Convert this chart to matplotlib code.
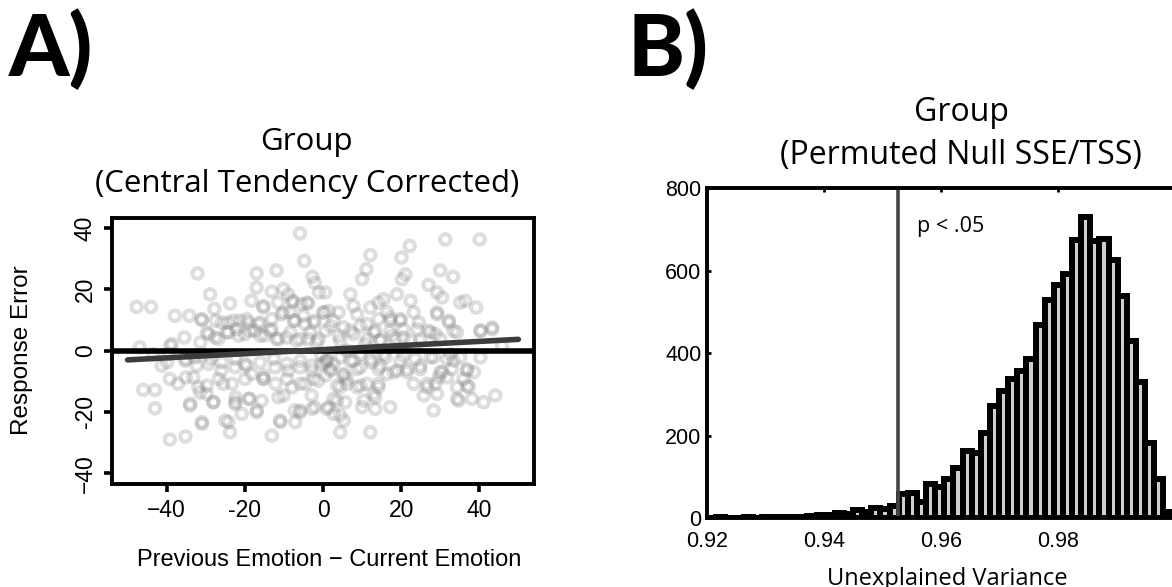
import matplotlib
matplotlib.use("Agg")
import matplotlib.pyplot as plt
import numpy as np

# ---- panel A data: previous - current emotion (x) vs response error (y)
# sparse reading of the whole cloud
prev_minus_cur_1 = [
    -5.9, -4.8, -32.1, -17.0, -11.9, -2.7, -2.1, -1.0, -28.9, -17.0, -13.1, -10.1, -8.9, -7.6,
    -5.5, -3.8, -47.7, -44.0, -23.8, -18.3, -15.3, -11.5, -27.8, -37.9, -34.2, -31.1, -27.5,
    -24.3, -21.2, -19.2, -16.5, -13.1, -10.6, -8.5, -7.2, -4.6, -2.1, 0.1, -35.5, -38.7, -29.3,
    -26.8, -24.2, -22.1, -20.0, -17.4, -14.9, -11.9, -9.3, -6.8, -3.8, -1.6, -46.9, -43.5,
    -41.3, -39.2, -37.1, -35.1, -33.2, -46.0, -43.0, -43.0, -34.0, -31.0, -39.2, -35.2, -31.9,
    -29.8, -28.1, -25.5, -24.2, -23.8, -22.5, -20.8, -18.8, -17.0, -15.7, -15.3, -13.1, -11.0,
    -10.1, -7.9, -7.2, -5.9, -2.9, -2.1, -22.5, -20.0, -18.3, -26.0, -29.3, -35.2, -39.6, -32.7,
    -12.3, -8.9, -5.9, -2.9, -0.4, -4.6, -1.2, -0.4,
    31.3, 40.1, 22.2, 12.1, 20.1, 11.1, 10.0, 21.1, 20.2, 30.0, 33.3, 7.0, 18.9, 27.0, 29.2,
    30.5, 35.1, 36.4, 39.2, 12.1, 14.2, 15.5, 1.4, 4.0, 23.2, 24.5, 29.2, 32.2, 33.4, 40.3,
    43.3, 11.2, 13.4, 17.2, 19.8, 5.3, 7.8, 17.7, 20.6, 27.0, 28.8, 45.8, 24.9, 40.3, 36.9,
    38.6, 32.6, 31.7, 30.0, 28.8, 24.9, 23.2, 26.6, 25.8, 28.3, 29.2, 34.7, 34.3, 37.3, 38.1,
    41.1, 44.1, 36.0, 16.4, 19.0, 21.5, 17.2, 13.4, 10.0, 12.1, 4.4, 5.3, 2.7, 3.6, 4.4, 1.4,
    6.1, 8.7, 11.2, 12.9, 14.2, 9.6, 12.5, 14.7, 7.0, 2.7, 1.0, 1.9, 5.3, 6.1, 9.6, 15.5, 20.6,
    28.3, 33.4, 4.4, 10.8, 14.7, 0.6, 2.7, 8.7, 16.4, 22.4, 0.6, 7.8,
]
response_error_1 = [
    38.3, 29.3, 25.2, 25.2, 26.2, 24.1, 22.2, 19.0, 18.4, 20.6, 19.3, 20.1, 18.4, 16.0, 15.2,
    15.4, 14.3, 14.3, 15.4, 16.3, 14.1, 15.7, 13.6, 11.4, 11.4, 10.0, 9.8, 9.2, 9.8, 9.2, 8.7,
    7.0, 11.9, 12.5, 9.8, 8.7, 9.8, 12.5, 4.3, 2.2, 5.4, 3.8, 6.0, 7.0, 5.4, 6.5, 4.9, 3.8, 4.3,
    3.3, 3.8, 2.7, 1.1, -1.1, -4.9, -9.2, -10.8, -8.7, -8.7, -12.8, -12.8, -18.8, -17.9, -23.9,
    -29.0, -28.0, -11.9, -14.1, -16.8, -10.8, -23.3, -26.6, -17.4, -20.6, -15.7, -20.1, -16.3,
    -9.2, -27.7, -22.8, -14.6, -11.9, -19.5, -20.1, -14.6, -18.4, -5.4, -4.3, -7.6, -6.5, -4.3,
    -3.3, -1.1, -2.2, -5.4, -6.5, -5.4, -6.5, -4.3, -10.8, -9.8, -1.6,
    36.3, 36.3, 34.2, 31.2, 30.4, 26.6, 23.3, 24.9, 23.3, 26.2, 24.1, 18.4, 18.4, 21.5, 19.0,
    17.4, 15.7, 16.3, 14.1, 14.1, 15.7, 16.8, 13.0, 12.5, 12.5, 9.2, 12.5, 9.2, 6.5, 6.5, 7.6,
    8.7, 6.5, 9.8, 9.8, 7.6, 5.4, 4.9, 4.3, 6.5, 5.4, 1.6, 3.3, -2.2, -6.5, -7.0, -1.1, -8.7,
    -7.0, -10.8, -4.9, -10.8, -11.9, -14.6, -19.5, -14.1, -16.3, -11.9, -11.9, -15.7, -16.8,
    -14.6, -9.2, -7.6, -6.5, -7.0, -18.4, -19.0, -18.4, -26.6, -26.6, -22.8, -20.6, -16.3,
    -11.9, -18.4, -10.8, -11.9, -10.8, -14.1, -11.9, -5.4, -3.8, -4.9, -3.3, -4.3, -3.3, -6.5,
    -7.6, 0.0, -1.1, -1.1, -1.6, -2.2, -3.3, 3.3, 2.2, 3.3, 6.5, 9.8, 11.9, 12.5, 16.3, 19.0,
    14.6,
]
# dense centre, left half
prev_minus_cur_2 = [
    -7.9, -4.1, -15.2, -31.0, -25.9, -22.9, -19.5, -16.1, -13.1, -10.1, -7.5, -5.0, -2.4, 0.2,
    -29.7, -27.6, -24.6, -21.6, -18.6, -16.1, -13.5, -11.4, -8.4, -5.8, -3.3, -1.1, -39.1,
    -31.4, -39.9, -35.2, -32.3, -28.8, -25.9, -22.4, -19.5, -16.1, -12.6, -9.2, -5.8, -2.8,
    0.6, -29.7, -26.7, -23.3, -19.9, -15.2, -15.2, -12.2, -9.2, -5.8, -2.4, 0.6, -34.0, -31.4,
    -28.0, -22.4, -22.4, -19.0, -16.9, -11.4, -5.8, -2.8, -31.0, -25.0, -10.9, -7.1,
]
response_error_2 = [
    16.3, 15.7, 14.6, 10.3, 9.2, 9.8, 10.3, 9.2, 10.3, 12.5, 9.8, 11.4, 9.2, 12.5, 6.0, 4.3,
    6.0, 4.9, 6.5, 4.9, 6.5, 3.8, 6.0, 3.8, 6.0, 3.8, 1.6, 2.7, -3.8, -2.7, -4.9, -2.7, -3.8,
    -2.7, -4.9, -3.8, -2.7, -4.3, -3.3, -4.9, -3.8, -11.4, -9.2, -10.8, -9.2, -8.1, -9.2,
    -10.8, -9.2, -10.8, -9.2, -8.1, -17.3, -13.6, -16.8, -16.8, -15.2, -15.7, -19.5, -15.2,
    -19.5, -19.0, -23.3, -22.8, -23.3, -23.3,
]
# dense centre, right half
prev_minus_cur_3 = [
    29.2, 32.2, 17.2, 19.8, 14.2, 1.9, 7.0, 9.6, 13.0, 17.2, 20.6, 24.1, 27.5, 34.3, 40.3,
    43.3, 4.0, 11.3, 14.7, 18.5, 22.4, 30.0, 1.0, 4.4, 7.8, 12.1, 16.0, 19.8, 23.6, 27.5, 31.7,
    35.1, 1.9, 5.3, 8.7, 14.2, 18.1, 21.5, 24.9, 30.5, 33.0, 36.9, 3.6, 6.1, 9.6, 14.2, 26.6,
    29.6, 36.9, 34.3, 2.7, 5.7, 10.4, 13.4, 1.0, 4.4,
]
response_error_3 = [
    11.9, 9.8, 10.8, 10.3, 10.3, 8.1, 6.5, 8.1, 6.0, 6.5, 7.0, 7.0, 6.0, 6.0, 6.5, 7.0, 4.9,
    3.8, 3.3, 3.8, 3.3, 3.8, -2.7, -2.2, -3.3, -2.7, -2.2, -3.3, -2.7, -2.2, -2.7, -2.2, -6.0,
    -8.1, -6.0, -6.0, -7.0, -6.0, -6.0, -7.0, -6.0, -6.0, -11.4, -9.2, -11.4, -10.8, -10.8,
    -8.7, -11.4, -15.7, -15.7, -16.8, -16.3, -15.2, -19.0, -21.1,
]
fit_x = [-50, 50]
fit_y = [-3.0, 3.7]

# ---- panel B data: permuted null SSE/TSS histogram
bin_start = 0.9200
bin_width = 0.00156
null_counts = [
    1, 2, 1, 1, 2, 1, 2, 3, 2, 3, 4, 6, 7, 8, 12, 10, 20, 15, 24, 22, 29,
    58, 60, 40, 83, 75, 94, 121, 164, 157, 206, 273, 309, 337, 356, 385, 468, 529, 565,
    592, 674, 731, 673, 676, 626, 539, 429, 330, 182, 95, 16,
]
observed = 0.9527

W, H = 1172, 587
fig = plt.figure(figsize=(W / 100, H / 100), dpi=100)

def px(x0, y0, x1, y1):
    # pixel box -> figure fraction [left, bottom, width, height]
    return [x0 / W, 1 - y1 / H, (x1 - x0) / W, (y1 - y0) / H]

helv = ["Liberation Sans", "DejaVu Sans"]
myr = ["Open Sans", "DejaVu Sans"]
heavy = ["Lato", "Open Sans", "DejaVu Sans"]

# ================= panel A =================
axA = fig.add_axes(px(112, 218, 534, 484))
xs = prev_minus_cur_1 + prev_minus_cur_2 + prev_minus_cur_3
ys = response_error_1 + response_error_2 + response_error_3
axA.scatter(xs, ys, s=56, facecolors="none",
            edgecolors=(0.5, 0.5, 0.5, 0.26), linewidths=3.0, zorder=2)
axA.axhline(0, color="black", lw=4.0, zorder=3)
axA.plot(fit_x, fit_y, color="#3c3c3c", lw=4.0, solid_capstyle="round", zorder=4)
axA.set_xlim(-54, 54)
axA.set_ylim(-43.5, 43.3)
axA.set_xticks([-40, -20, 0, 20, 40])
axA.set_xticklabels(["\u221240", "-20", "0", "20", "40"])
axA.set_yticks([-40, -20, 0, 20, 40])
axA.set_yticklabels(["\u221240", "-20", "0", "20", "40"], rotation=90, va="center")
for sp in axA.spines.values():
    sp.set_linewidth(2.8)
axA.tick_params(direction="out", length=6, width=2.6, labelsize=16.5, pad=5)
for t in axA.get_xticklabels() + axA.get_yticklabels():
    t.set_family(helv)

fig.text(306 / W, 1 - 150 / H, "Group", ha="center", va="baseline",
         family=myr, fontsize=22.5)
fig.text(307 / W, 1 - 192 / H, "(Central Tendency Corrected)", ha="center",
         va="baseline", family=myr, fontsize=22.5)
fig.text(329 / W, 1 - 566 / H, "Previous Emotion \u2212 Current Emotion", ha="center",
         va="baseline", family=helv, fontsize=17)
fig.text(22 / W, 1 - 350 / H, "Response Error", ha="center", va="center",
         rotation=90, family=helv, fontsize=17.5)
fig.text(9 / W, 1 - 76 / H, "A)", ha="left", va="baseline", family=heavy,
         fontsize=62, fontweight="black")

# ================= panel B =================
axB = fig.add_axes(px(707, 188.2, 1175, 518.2))
edges = bin_start + bin_width * np.arange(len(null_counts))
axB.bar(edges, null_counts, width=bin_width, align="edge", facecolor="#cfcfcf",
        edgecolor="black", linewidth=4.3, zorder=2)
axB.axvline(observed, color="#444444", lw=2.6, zorder=3)
axB.text(0.9559, 694, "p < .05", family=myr, fontsize=15.5, va="baseline", ha="left")
axB.set_xlim(0.92, 1.0)
axB.set_ylim(0, 800)
axB.set_xticks([0.92, 0.94, 0.96, 0.98])
axB.set_xticklabels(["0.92", "0.94", "0.96", "0.98"])
axB.set_yticks([0, 200, 400, 600, 800])
for sp in axB.spines.values():
    sp.set_linewidth(2.8)
    sp.set_zorder(5)
axB.tick_params(direction="in", length=3, width=2, labelsize=15.5, top=True,
                right=False, pad=4)
axB.tick_params(axis="x", pad=9)
for t in axB.get_xticklabels() + axB.get_yticklabels():
    t.set_family(helv)

fig.text(961 / W, 1 - 121 / H, "Group", ha="center", va="baseline",
         family=myr, fontsize=23)
fig.text(961 / W, 1 - 164 / H, "(Permuted Null SSE/TSS)", ha="center",
         va="baseline", family=myr, fontsize=23)
fig.text(947 / W, 1 - 585 / H, "Unexplained Variance", ha="center", va="baseline",
         family=myr, fontsize=17)
fig.text(628 / W, 1 - 76 / H, "B)", ha="left", va="baseline", family=heavy,
         fontsize=62, fontweight="black")

fig.savefig("out.png", dpi=100)
